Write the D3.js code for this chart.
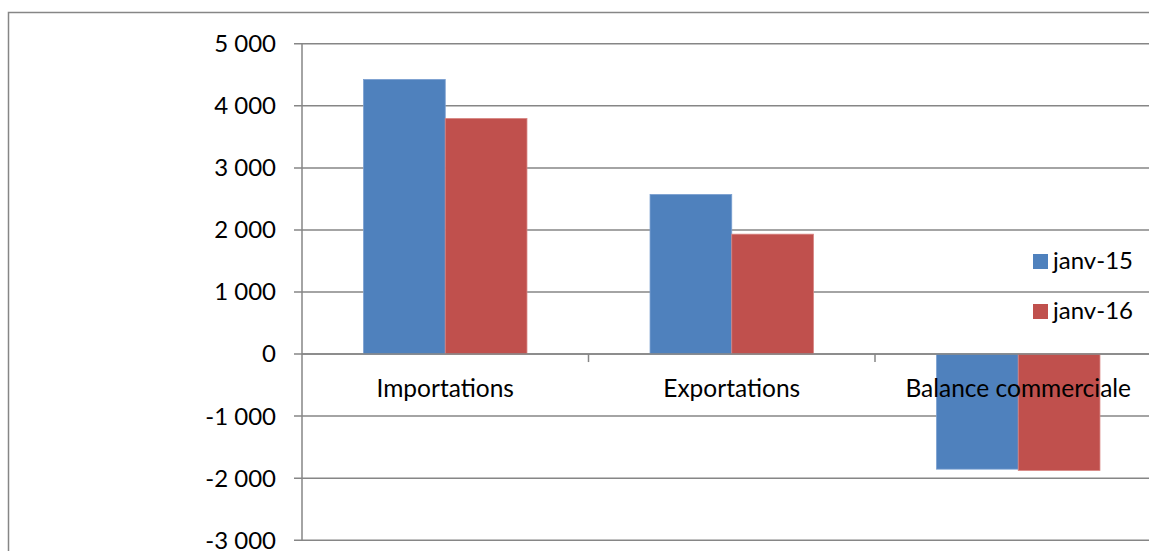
<!DOCTYPE html>
<html><head><meta charset="utf-8">
<script src="https://cdn.jsdelivr.net/npm/d3@7"></script>
<style>html,body{margin:0;padding:0;background:#fff;overflow:hidden}</style>
</head><body>
<svg id="c" width="1149" height="551"></svg>
<script>
const categories = ["Importations", "Exportations", "Balance commerciale"];
const seriesNames = ["janv-15", "janv-16"];
const janv15 = [4426, 2572, -1855];
const janv16 = [3797, 1932, -1876];
const yTicks = [5000, 4000, 3000, 2000, 1000, 0, -1000, -2000, -3000];
const colors = ["#4F81BD", "#C0504D"];
const edge = ["#7A9FD0", "#D88582"];

(function () {
const svg = d3.select("#c");
const font = "Lato, 'Open Sans', sans-serif";
const grid = "#868686";

svg.append("path").attr("d", "M8.5,551 L8.5,12.5 L1149,12.5")
  .attr("fill", "none").attr("stroke", grid).attr("stroke-width", 1.5);

const pLeft = 302, pRight = 1161.5, pTop = 43.8, pBottom = 540.2;
const y = d3.scaleLinear().domain([-3000, 5000]).range([pBottom, pTop]);
const x0 = d3.scaleBand().domain(categories).range([pLeft, pRight]).paddingInner(0).paddingOuter(0);
const x1 = d3.scaleBand().domain(seriesNames).range([0, x0.bandwidth()]).paddingInner(0).paddingOuter(0.753);

const fmt = v => d3.format(",")(v).replace(/,/g, " ").replace("−", "-");

svg.append("g").selectAll("line").data(yTicks).join("line")
  .attr("x1", pLeft - 8).attr("x2", 1149)
  .attr("y1", d => y(d)).attr("y2", d => y(d))
  .attr("stroke", grid).attr("stroke-width", 1.5);

svg.append("line").attr("x1", pLeft).attr("x2", pLeft).attr("y1", pTop).attr("y2", pBottom)
  .attr("stroke", grid).attr("stroke-width", 1.5);

svg.append("g").selectAll("text").data(yTicks).join("text")
  .attr("x", 276).attr("y", d => y(d)).attr("dy", "0.35em")
  .attr("text-anchor", "end").attr("font-family", font).attr("font-size", 24)
  .attr("fill", "#000").text(d => fmt(d));

const data = [janv15, janv16];
categories.forEach((c, i) => {
  seriesNames.forEach((s, j) => {
    const v = data[j][i];
    svg.append("rect")
      .attr("x", x0(c) + x1(s)).attr("width", x1.bandwidth())
      .attr("y", y(Math.max(0, v))).attr("height", Math.abs(y(v) - y(0)))
      .attr("fill", colors[j]).attr("stroke", edge[j]).attr("stroke-width", 0.8);
  });
});

svg.append("line").attr("x1", pLeft).attr("x2", 1149).attr("y1", y(0)).attr("y2", y(0))
  .attr("stroke", grid).attr("stroke-width", 1.5);

svg.append("g").selectAll("line").data(categories.slice(1)).join("line")
  .attr("x1", d => x0(d)).attr("x2", d => x0(d))
  .attr("y1", y(0)).attr("y2", y(0) + 8)
  .attr("stroke", grid).attr("stroke-width", 1.5);

svg.append("g").selectAll("text").data(categories).join("text")
  .attr("x", d => x0(d) + x0.bandwidth() / 2).attr("y", 397)
  .attr("text-anchor", "middle").attr("font-family", font).attr("font-size", 24.5)
  .attr("fill", "#000").text(d => d);

const lg = svg.append("g");
seriesNames.forEach((s, j) => {
  const cy = 261 + j * 50;
  lg.append("rect").attr("x", 1033).attr("y", cy - 7).attr("width", 15).attr("height", 15)
    .attr("fill", colors[j]);
  lg.append("text").attr("x", 1053).attr("y", cy).attr("dy", "0.35em")
    .attr("font-family", font).attr("font-size", 24).attr("fill", "#000").text(s);
});
})();
</script>
</body></html>
